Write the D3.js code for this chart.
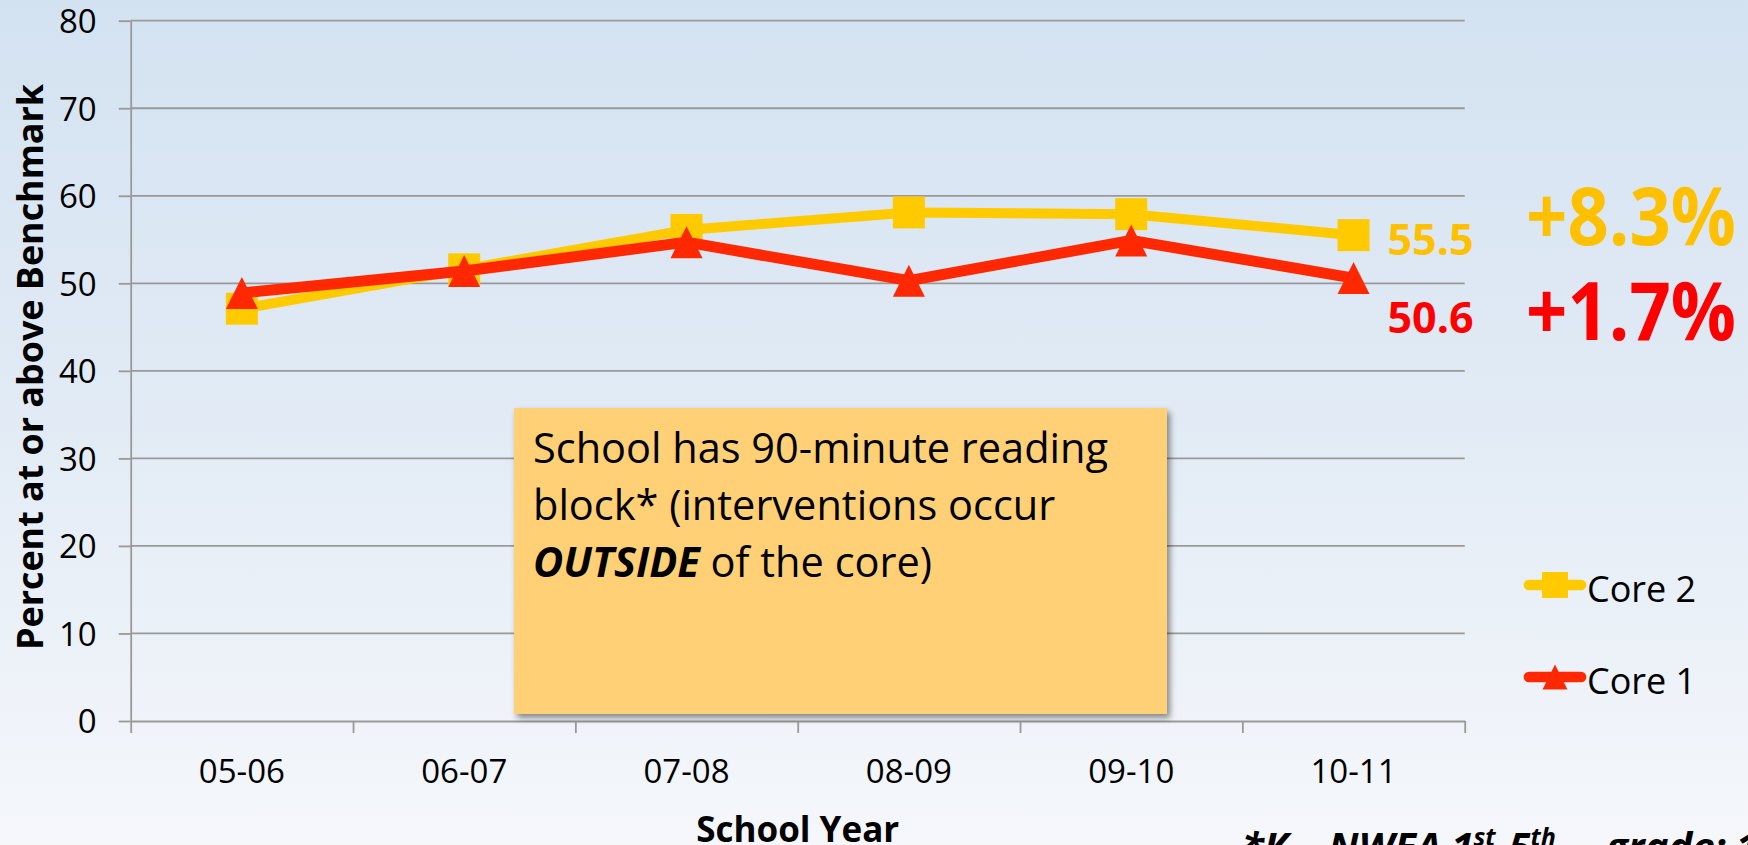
<!DOCTYPE html>
<html><head><meta charset="utf-8">
<script src="https://cdn.jsdelivr.net/npm/d3@7"></script>
<style>html,body{margin:0;padding:0;overflow:hidden;background:#fff;} svg{display:block;}</style>
</head><body><svg id="c" width="1748" height="845"></svg>
<script>
// ---- data ----
const categories = ["05-06","06-07","07-08","08-09","09-10","10-11"];
const core2 = [47.1, 51.6, 56.1, 58.1, 57.9, 55.5];
const core1 = [48.9, 51.4, 54.7, 50.3, 54.9, 50.6];
const yTicks = [0,10,20,30,40,50,60,70,80];
const seriesNames = ["Core 2", "Core 1"];
const endLabels = ["55.5", "50.6"];
const changeLabels = ["+8.3%", "+1.7%"];
const noteLines = ["School has 90-minute reading", "block* (interventions occur"];
const noteLast = ["OUTSIDE", " of the core)"];
const yTitle = "Percent at or above Benchmark";
const xTitle = "School Year";

(function () {
const W = 1748, H = 845;
const svg = d3.select("#c");
const FONT = "'Open Sans', 'Noto Sans', sans-serif";
const pLeft = 130.7, pRight = 1464.7, pTop = 20.7, pBottom = 721;

const defs = svg.append("defs");
const grad = defs.append("linearGradient").attr("id","bg").attr("x1",0).attr("y1",0).attr("x2",0).attr("y2",1);
grad.append("stop").attr("offset","0%").attr("stop-color","#D3E2F1");
grad.append("stop").attr("offset","50%").attr("stop-color","#E2EBF5");
grad.append("stop").attr("offset","100%").attr("stop-color","#F5F7FB");
const f = defs.append("filter").attr("id","shadow").attr("x","-10%").attr("y","-10%").attr("width","130%").attr("height","130%");
f.append("feDropShadow").attr("dx",3).attr("dy",4).attr("stdDeviation",3).attr("flood-color","#000").attr("flood-opacity",0.45);

svg.append("rect").attr("width",W).attr("height",H).attr("fill","url(#bg)");

const x = d3.scaleBand().domain(categories).range([pLeft, pRight]).padding(0);
const xb = d3.scaleLinear().domain([0, categories.length]).range([pLeft, pRight]);
const y = d3.scaleLinear().domain([0, 80]).range([pBottom, pTop]);
const cx = c => x(c) + x.bandwidth()/2;

// gridlines
svg.append("g").selectAll("line").data(yTicks.filter(d => d > 0)).join("line")
  .attr("x1", pLeft).attr("x2", pRight).attr("y1", d => y(d)).attr("y2", d => y(d))
  .attr("stroke", "#999999").attr("stroke-width", 1.8);

// y axis
const gy = svg.append("g").attr("transform", `translate(${pLeft},0)`)
  .call(d3.axisLeft(y).tickValues(yTicks).tickSize(12).tickSizeOuter(0).tickPadding(22));
gy.selectAll("path, line").attr("stroke", "#999999").attr("stroke-width", 1.8);
gy.selectAll("text").attr("font-family", FONT).attr("font-size", 33).attr("fill", "#000").attr("dy", "0.36em");

// x axis: line + boundary ticks
const gx = svg.append("g").attr("transform", `translate(0,${pBottom})`)
  .call(d3.axisBottom(xb).tickValues(d3.range(categories.length + 1)).tickSize(12).tickSizeOuter(0).tickFormat(""));
gx.selectAll("path, line").attr("stroke", "#999999").attr("stroke-width", 1.8);
// x labels
const gxl = svg.append("g").attr("transform", `translate(0,${pBottom})`)
  .call(d3.axisBottom(x).tickSize(0).tickPadding(0));
gxl.select(".domain").remove();
gxl.selectAll("text").attr("font-family", FONT).attr("font-size", 33).attr("fill", "#000")
  .attr("y", 61.7).attr("dy", null);

// axis titles
svg.append("text").attr("transform", `translate(43,367) rotate(-90)`)
  .attr("text-anchor", "middle").attr("font-family", FONT).attr("font-weight", 700)
  .attr("font-size", 35).attr("textLength", 566).attr("lengthAdjust", "spacingAndGlyphs")
  .attr("fill", "#000").text(yTitle);
svg.append("text").attr("x", (pLeft + pRight)/2).attr("y", 842)
  .attr("text-anchor", "middle").attr("font-family", FONT).attr("font-weight", 700)
  .attr("font-size", 35).attr("fill", "#000").text(xTitle);

// note box
const bx = 514, by = 408, bw = 653, bh = 306;
svg.append("rect").attr("x", bx).attr("y", by).attr("width", bw).attr("height", bh)
  .attr("fill", "#FFD075").attr("filter", "url(#shadow)");
const nt = svg.append("g").attr("font-family", FONT).attr("font-size", 41.5).attr("fill", "#000");
noteLines.forEach((t, i) => nt.append("text").attr("x", 533).attr("y", 463 + i*57).text(t));
const t3 = nt.append("text").attr("x", 533).attr("y", 577);
t3.append("tspan").attr("font-weight", 700).attr("font-style", "italic").text(noteLast[0]);
t3.append("tspan").text(noteLast[1]);

// series
const colors = ["#FFCA00", "#FF2800"];
const widths = [10, 11];
const seriesData = [core2, core1];
const line = d3.line().x(d => cx(d.c)).y(d => y(d.v));
const tri = s => `M0,${-s}L${s},${s}L${-s},${s}Z`;
seriesData.forEach((vals, si) => {
  const pts = categories.map((c, i) => ({c, v: vals[i]}));
  svg.append("path").datum(pts).attr("d", line).attr("fill", "none")
    .attr("stroke", colors[si]).attr("stroke-width", widths[si]).attr("stroke-linejoin", "round");
  const g = svg.append("g");
  if (si === 0) {
    g.selectAll("rect").data(pts).join("rect")
      .attr("x", d => cx(d.c) - 16).attr("y", d => y(d.v) - 16).attr("width", 32).attr("height", 32)
      .attr("fill", colors[si]);
  } else {
    g.selectAll("path").data(pts).join("path")
      .attr("transform", d => `translate(${cx(d.c)},${y(d.v)})`).attr("d", tri(16))
      .attr("fill", colors[si]);
  }
});

// end labels
const last = categories[categories.length - 1];
const labelColors = ["#FFC000", "#FF0000"];
const endOffsets = [20, 55];
endLabels.forEach((t, i) => {
  svg.append("text").attr("x", cx(last) + 34).attr("y", y(seriesData[i][5]) + endOffsets[i])
    .attr("font-family", FONT).attr("font-weight", 700).attr("font-size", 43)
    .attr("fill", labelColors[i]).text(t);
});
// change labels
const changeY = [245, 340];
changeLabels.forEach((t, i) => {
  svg.append("text").attr("x", 1526).attr("y", changeY[i])
    .attr("font-family", FONT).attr("font-weight", 700).attr("font-size", 80)
    .attr("textLength", 210).attr("lengthAdjust", "spacingAndGlyphs")
    .attr("fill", labelColors[i]).text(t);
});

// legend
const legY = [585, 677];
seriesNames.forEach((n, i) => {
  const g = svg.append("g").attr("transform", `translate(0,${legY[i]})`);
  g.append("line").attr("x1", 1529).attr("x2", 1581).attr("y1", 0).attr("y2", 0)
    .attr("stroke", colors[i]).attr("stroke-width", 10.7).attr("stroke-linecap", "round");
  if (i === 0) {
    g.append("rect").attr("x", 1542).attr("y", -13).attr("width", 26).attr("height", 26).attr("fill", colors[i]);
  } else {
    g.append("path").attr("transform", "translate(1555,0)").attr("d", tri(12.5)).attr("fill", colors[i]);
  }
  g.append("text").attr("x", 1587).attr("y", 16.5).attr("font-family", FONT).attr("font-size", 36)
    .attr("fill", "#000").text(n);
});

// footnote (cut by the bottom edge)
const fn = svg.append("text").attr("x", 1242).attr("y", 861).attr("font-family", FONT)
  .attr("font-weight", 700).attr("font-style", "italic").attr("font-size", 40).attr("fill", "#000");
fn.append("tspan").text("*K – NWEA 1");
fn.append("tspan").attr("font-size", 25).attr("dy", -15).text("st");
fn.append("tspan").attr("dy", 15).text("-5");
fn.append("tspan").attr("font-size", 25).attr("dy", -15).text("th");
fn.append("tspan").attr("dy", 15).attr("dx", 40).text(" grade: 1");
})();
</script></body></html>
